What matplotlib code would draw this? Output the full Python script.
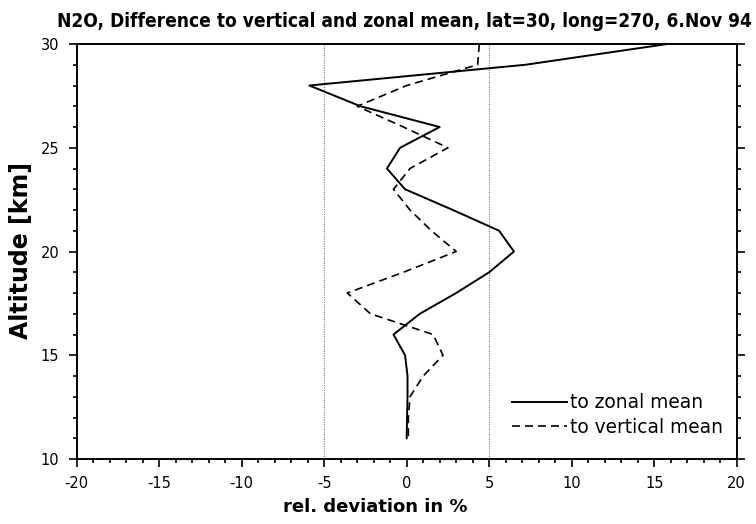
import matplotlib
matplotlib.use("Agg")
import matplotlib.pyplot as plt
from matplotlib.ticker import MultipleLocator

# Data
altitude = [30, 29, 28, 27, 26, 25, 24, 23, 22, 21, 20, 19, 18, 17, 16, 15, 14, 13, 12, 11]
to_zonal = [15.8, 7.2, -5.9, -2.8, 2.0, -0.4, -1.2, -0.1, 2.8, 5.6, 6.5, 5.0, 3.0, 0.8,
            -0.8, -0.1, 0.05, 0.05, 0.02, 0.0]
to_vertical = [4.4, 4.3, 0.0, -3.0, -0.2, 2.5, 0.2, -0.8, 0.2, 1.5, 3.0, -0.2, -3.6, -2.2,
               1.6, 2.2, 1.0, 0.2, 0.1, 0.1]
ref_lines = [-5, 5]
labels = ["to zonal mean", "to vertical mean"]
title = "N2O, Difference to vertical and zonal mean, lat=30, long=270, 6.Nov 94"

plt.rcParams['font.family'] = ['DejaVu Sans']
plt.rcParams['axes.unicode_minus'] = False

W, H = 756, 524
fig = plt.figure(figsize=(W / 100, H / 100), dpi=100)
ax = fig.add_axes([76.7 / W, 1 - 459 / H, (736.7 - 76.7) / W, (459 - 44) / H])

for xv in ref_lines:
    ax.plot([xv, xv], [10, 30], color='#777777', lw=0.8, linestyle=(0, (1, 1.2)))

ax.plot(to_zonal, altitude, color='black', lw=1.4, label=labels[0])
ax.plot(to_vertical, altitude, color='black', lw=1.2, linestyle=(0, (4.8, 3.0)), label=labels[1])

ax.set_xlim(-20, 20)
ax.set_ylim(10, 30)
ax.xaxis.set_major_locator(MultipleLocator(5))
ax.xaxis.set_minor_locator(MultipleLocator(1))
ax.yaxis.set_major_locator(MultipleLocator(5))
ax.yaxis.set_minor_locator(MultipleLocator(1))
ax.tick_params(which='both', direction='out', width=1.2, labelsize=10.5, colors='black')
ax.tick_params(axis='y', which='both', right=True, left=True, labelright=False)
ax.tick_params(which='major', length=6)
ax.tick_params(which='minor', length=3.2)
ax.tick_params(axis='x', which='major', pad=6)
ax.tick_params(axis='y', which='major', pad=6.5)
for sp in ax.spines.values():
    sp.set_linewidth(1.4)

leg = ax.legend(loc='lower right', bbox_to_anchor=(0.979, 0.053), frameon=False,
                fontsize=13.4, handlelength=2.95, handletextpad=0.15,
                labelspacing=0.3, borderpad=0, borderaxespad=0)

fig.text(404 / W, 1 - 27 / H, title, ha='center', va='baseline',
         fontsize=13.7, fontweight='bold', fontstretch='condensed',
         family=['DejaVu Sans'])
fig.text(375 / W, 1 - 507 / H, "rel. deviation in %", ha='center', va='center',
         fontsize=13, fontweight='bold')
fig.text(21 / W, 1 - 251 / H, "Altitude [km]", ha='center', va='center',
         rotation=90, fontsize=17, fontweight='bold')

fig.savefig("out.png", dpi=100)
